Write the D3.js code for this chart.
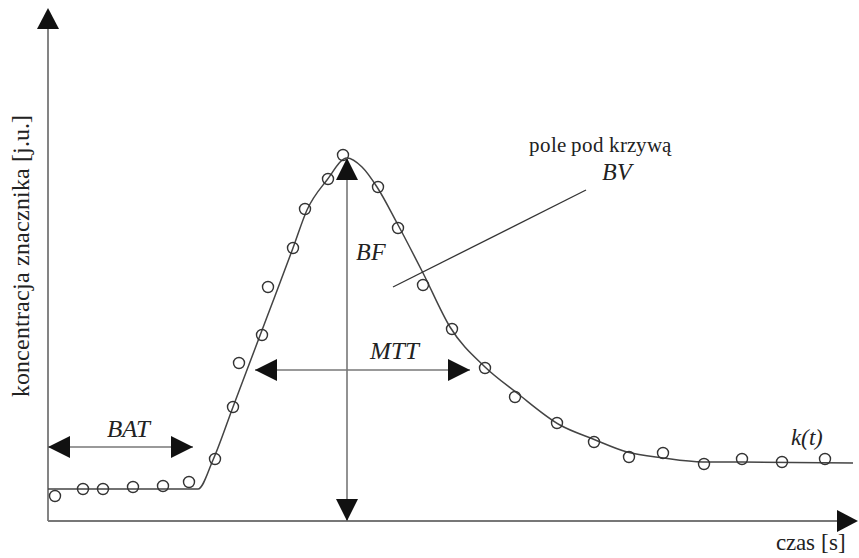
<!DOCTYPE html>
<html><head><meta charset="utf-8"><script src="https://cdn.jsdelivr.net/npm/d3@7"></script>
<style>
	@font-face { font-family: 'ChartSerif'; font-style: normal; src: local('Liberation Serif'), local('LiberationSerif'), local('Liberation Serif Regular'); }
	@font-face { font-family: 'ChartSerif'; font-style: italic; src: local('Liberation Serif Italic'), local('LiberationSerif-Italic'); }
</style>
</head>
<body style="margin:0">
<script>
// measured samples k(t): time [s] and concentration [j.u.]
const sampleT = [0.7, 3.5, 5.5, 8.5, 11.5, 14.1, 16.7, 18.5, 19.1, 21.4, 22.0, 24.5, 25.7, 28.0, 29.5,
	33.0, 35.0, 37.5, 40.4, 43.7, 46.7, 50.9, 54.6, 58.1, 61.5, 65.6, 69.4, 73.4, 77.7];
const sampleC = [5.0, 6.4, 6.4, 6.8, 7.0, 7.8, 12.4, 22.8, 31.6, 37.2, 46.8, 54.6, 62.4, 68.4, 73.2,
	66.8, 58.6, 47.2, 38.4, 30.6, 24.8, 19.6, 15.8, 12.8, 13.6, 11.4, 12.4, 11.8, 12.4];

// fitted curve
const fitT = [0, 15.0, 16.5, 18.5, 21.9, 24.5, 25.9, 27.9, 29.9, 31.4, 32.9, 34.9, 37.5, 40.2, 43.7,
	46.9, 51.2, 54.5, 57.9, 61.5, 65.5, 69.4, 80.5];
const fitC = [6.4, 6.4, 12.2, 22.8, 40.8, 54.6, 62.2, 68.2, 72.6, 70.8, 66.8, 59.6, 49.6, 38.8, 30.8,
	25.6, 19.2, 16.4, 13.8, 12.6, 11.8, 11.8, 11.6];

// annotations: [t1, c1, t2, c2]
const batArrow = [0, 14.8, 14.5, 14.8];
const mttArrow = [20.7, 30.2, 42.2, 30.2];
const bfArrow = [29.9, 0, 29.9, 72.6];
const bvPointer = [34.5, 46.8, 53.8, 66.2];

const w = 859, h = 558;
const svg = d3.select('body').append('svg')
	.attr('width', w)
	.attr('height', h);

const x = d3.scaleLinear().domain([0, 81]).range([48, 858]);
const y = d3.scaleLinear().domain([0, 102.6]).range([521, 8]);

// arrow head: tip at (x2,y2), pointing from (x1,y1)
function head(x1, y1, x2, y2, len, half){
	const a = Math.atan2(y2 - y1, x2 - x1);
	const bx = x2 - len * Math.cos(a), by = y2 - len * Math.sin(a);
	const px = -Math.sin(a) * half, py = Math.cos(a) * half;
	svg.append('path')
		.attr('d', `M${x2},${y2}L${bx + px},${by + py}L${bx - px},${by - py}Z`)
		.style('fill', '#111');
}

function arrow(a, both){
	const x1 = x(a[0]), y1 = y(a[1]), x2 = x(a[2]), y2 = y(a[3]);
	svg.append('line')
		.attr('x1', x1).attr('y1', y1).attr('x2', x2).attr('y2', y2)
		.style('stroke', '#777')
		.style('stroke-width', 1.6);
	head(x1, y1, x2, y2, 22, 11);
	if(both) head(x2, y2, x1, y1, 22, 11);
}

//axes
svg.append('line')
	.attr('x1', x(0)).attr('y1', y(0)).attr('x2', x(0)).attr('y2', 20)
	.style('stroke', '#777').style('stroke-width', 1.8);
head(x(0), 100, x(0), 8, 21, 11);
svg.append('line')
	.attr('x1', x(0)).attr('y1', y(0)).attr('x2', 845).attr('y2', y(0))
	.style('stroke', '#777').style('stroke-width', 1.8);
head(700, y(0), 858, y(0), 21, 11);

// fitted curve
const line = d3.line()
	.x(function(d){ return x(d[0]); })
	.y(function(d){ return y(d[1]); })
	.curve(d3.curveMonotoneX);

svg.append('path')
	.datum(d3.zip(fitT, fitC))
	.attr('d', line)
	.style('fill', 'none')
	.style('stroke', '#444')
	.style('stroke-width', 1.5);

// samples
svg.selectAll('circle')
	.data(d3.zip(sampleT, sampleC))
	.enter()
	.append('circle')
	.attr('cx', function(d){ return x(d[0]); })
	.attr('cy', function(d){ return y(d[1]); })
	.attr('r', 5.5)
	.style('fill', 'none')
	.style('stroke', '#333')
	.style('stroke-width', 1.4);

// annotations
arrow(batArrow, true);
arrow(mttArrow, true);
arrow(bfArrow, true);

svg.append('line')
	.attr('x1', x(bvPointer[0])).attr('y1', y(bvPointer[1]))
	.attr('x2', x(bvPointer[2])).attr('y2', y(bvPointer[3]))
	.style('stroke', '#333')
	.style('stroke-width', 1.3);

// labels
function label(txt, px, py, size, italic, anchor){
	const t = svg.append('text')
		.attr('x', px).attr('y', py)
		.style('font-family', '"ChartSerif", "Liberation Serif", serif')
		.style('font-size', size + 'px')
		.style('fill', '#222')
		.text(txt);
	if(anchor) t.attr('text-anchor', anchor);
	if(italic) t.style('font-style', 'italic');
	return t;
}

label('BAT', 128, 437, 25, true, 'middle');
label('MTT', 394, 359, 25, true, 'middle');
label('BF', 356, 260, 24, true);
label('pole pod krzywą', 600, 152, 20.5, false, 'middle');
label('BV', 617, 180, 24, true, 'middle');
label('k(t)', 807, 445, 23, true, 'middle');
label('czas [s]', 846, 550, 23, false, 'end');

label('koncentracja znacznika [j.u.]', 0, 0, 23.5, false, 'middle')
	.attr('transform', 'translate(29,256) rotate(-90)');
</script>
</body></html>
